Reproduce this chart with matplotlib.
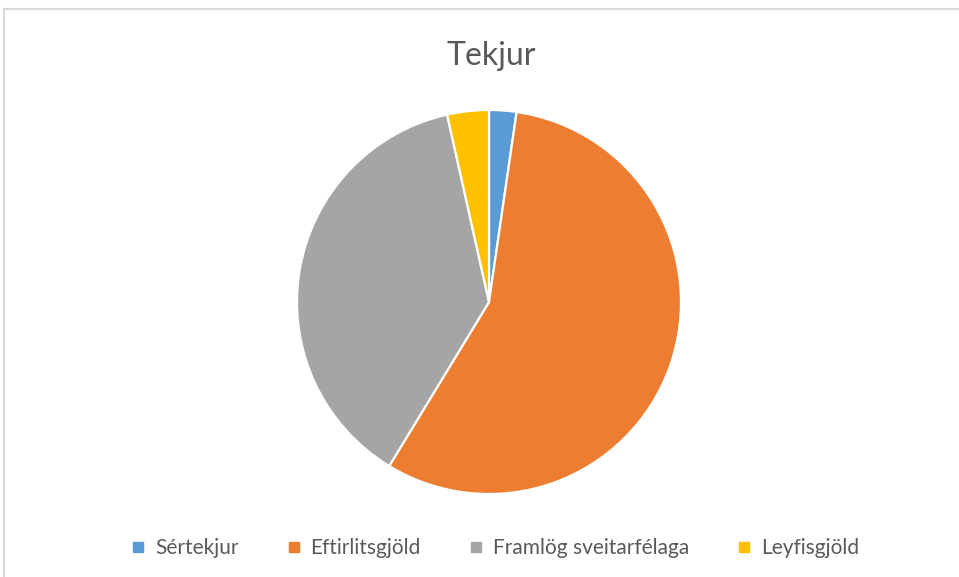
import matplotlib.pyplot as plt
from matplotlib.lines import Line2D

labels = ['Sértekjur', 'Eftirlitsgjöld', 'Framlög sveitarfélaga', 'Leyfisgjöld']
values = [2.3, 56.4, 37.8, 3.5]
colors = ['#5b9bd5', '#ed7d31', '#a5a5a5', '#ffc000']

plt.rcParams['font.family'] = ['Lato', 'DejaVu Sans']

fig = plt.figure(figsize=(9.59, 5.77), dpi=100)
W, H = 959, 577
cx, cy, r = 489, 302, 192
ax = fig.add_axes([(cx - r) / W, (H - cy - r) / H, 2 * r / W, 2 * r / H])
ax.pie(values, colors=colors, startangle=90, counterclock=False,
       wedgeprops=dict(edgecolor='white', linewidth=1.6))
ax.set_xlim(-1, 1)
ax.set_ylim(-1, 1)
ax.set_aspect('equal')
ax.axis('off')

fig.text(491 / W, 1 - 56 / H, 'Tekjur', ha='center', va='center',
         fontsize=23, color='#595959')

handles = [Line2D([], [], marker='s', linestyle='', markersize=6.5,
                  markerfacecolor=c, markeredgecolor=c) for c in colors]
fig.legend(handles, labels, loc='center', bbox_to_anchor=(495 / W, 1 - 548 / H),
           ncol=4, frameon=False, fontsize=15, labelcolor='#595959',
           handletextpad=0.45, columnspacing=2.3, handlelength=0.7)

# chart frame (top and left edges visible in the crop)
fig.add_artist(Line2D([4 / W, 1], [1 - 9 / H, 1 - 9 / H], color='#d9d9d9', linewidth=1.5))
fig.add_artist(Line2D([4 / W, 4 / W], [0, 1 - 9 / H], color='#d9d9d9', linewidth=1.5))

fig.savefig('out.png', dpi=100)
